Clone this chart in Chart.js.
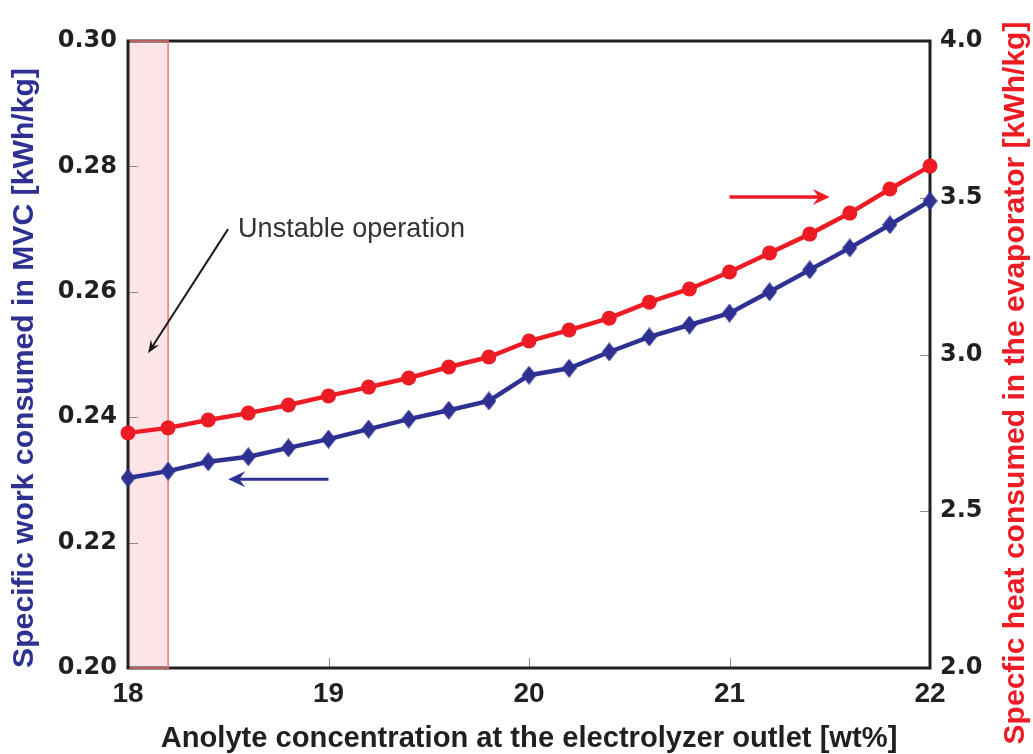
<!DOCTYPE html>
<html><head><meta charset="utf-8">
<script src="https://cdn.jsdelivr.net/npm/chart.js@4.4.1/dist/chart.umd.min.js"></script>
<style>html,body{margin:0;padding:0;background:#fff;}#wrap{width:1033px;height:754px;}</style>
</head><body><div id="wrap"><canvas id="c" width="1033" height="754" style="width:1033px;height:754px"></canvas></div>
<script>
// ---- data ----
const concentration = [18.0, 18.2, 18.4, 18.6, 18.8, 19.0, 19.2, 19.4, 19.6, 19.8, 20.0, 20.2, 20.4, 20.6, 20.8, 21.0, 21.2, 21.4, 21.6, 21.8, 22.0];
const mvcWork = [0.2303, 0.2314, 0.2329, 0.2337, 0.2351, 0.2365, 0.2381, 0.2397, 0.2411, 0.2426, 0.2467, 0.2478, 0.2504, 0.2528, 0.2547, 0.2566, 0.2600, 0.2635, 0.2670, 0.2707, 0.2745];
const evapHeat = [2.750, 2.766, 2.791, 2.813, 2.839, 2.868, 2.896, 2.925, 2.960, 2.992, 3.043, 3.078, 3.116, 3.167, 3.209, 3.263, 3.324, 3.384, 3.451, 3.528, 3.601];
const xTicks = [18, 19, 20, 21, 22];
const leftTicks = [0.20, 0.22, 0.24, 0.26, 0.28, 0.30];
const rightTicks = [2.0, 2.5, 3.0, 3.5, 4.0];
const unstableRange = [18.0, 18.2];
const xTitle = 'Anolyte concentration at the electrolyzer outlet [wt%]';
const leftTitle = 'Specific work consumed in MVC [kWh/kg]';
const rightTitle = 'Specfic heat consumed in the evaporator [kWh/kg]';
const noteText = 'Unstable operation';

// annotation anchors in data units (x, left-axis y)
const notes = {
  text: {x: 18.549, y: 0.26874},
  blackArrow: {from: [18.499, 0.2700], to: [18.10, 0.2502]},
  blueArrow: {from: [19.0, 0.2301], to: [18.5, 0.2301]},
  redArrow: {from: [21.0, 0.2751], to: [21.5, 0.2751]}
};

const BLUE = '#2e3192', RED = '#ed1c24';
const SANS = '"Liberation Sans", Arial, sans-serif';

function diamond(w, h, color) {
  const c = document.createElement('canvas'); c.width = w; c.height = h;
  const g = c.getContext('2d'); g.fillStyle = color;
  g.beginPath(); g.moveTo(w/2, 0); g.lineTo(w, h/2); g.lineTo(w/2, h); g.lineTo(0, h/2); g.closePath(); g.fill();
  return c;
}
function fitSize(ctx, text, weight, family, width) {
  ctx.font = weight + ' 100px ' + family;
  return 100 * width / ctx.measureText(text).width;
}
function arrow(ctx, x0, y0, x1, y1, color, lw, L, W) {
  const a = Math.atan2(y1 - y0, x1 - x0);
  ctx.save();
  ctx.strokeStyle = color; ctx.fillStyle = color; ctx.lineWidth = lw; ctx.lineCap = 'butt';
  ctx.beginPath(); ctx.moveTo(x0, y0);
  ctx.lineTo(x1 - Math.cos(a) * L * 0.6, y1 - Math.sin(a) * L * 0.6); ctx.stroke();
  ctx.translate(x1, y1); ctx.rotate(a);
  ctx.beginPath(); ctx.moveTo(0, 0); ctx.lineTo(-L, -W); ctx.lineTo(-L * 0.65, 0); ctx.lineTo(-L, W); ctx.closePath(); ctx.fill();
  ctx.restore();
}

const annot = {
  id: 'annot',
  beforeDatasetsDraw(chart) {
    const {ctx, chartArea: a, scales: {x, y, y1}} = chart;
    const x0 = x.getPixelForValue(unstableRange[0]), x1 = x.getPixelForValue(unstableRange[1]);
    ctx.save();
    ctx.fillStyle = '#fde5e7';
    ctx.fillRect(x0, a.top, x1 - x0, a.bottom - a.top);
    // inner ticks
    ctx.strokeStyle = '#8c8c8c'; ctx.lineWidth = 1;
    ctx.beginPath();
    leftTicks.forEach(v => { const p = Math.round(y.getPixelForValue(v)) + 0.5; ctx.moveTo(a.left, p); ctx.lineTo(a.left + 10, p); });
    rightTicks.forEach(v => { const p = Math.round(y1.getPixelForValue(v)) + 0.5; ctx.moveTo(a.right, p); ctx.lineTo(a.right - 10, p); });
    xTicks.forEach(v => { const p = Math.round(x.getPixelForValue(v)) + 0.5; ctx.moveTo(p, a.bottom); ctx.lineTo(p, a.bottom - 10); });
    ctx.stroke();
    // frame
    ctx.strokeStyle = '#231f20'; ctx.lineWidth = 3;
    ctx.strokeRect(a.left, a.top, a.right - a.left, a.bottom - a.top);
    // region border (top, right, bottom)
    ctx.strokeStyle = '#f0777b'; ctx.lineWidth = 1.5;
    ctx.beginPath();
    ctx.moveTo(x0 + 1.5, a.top); ctx.lineTo(x1, a.top); ctx.lineTo(x1, a.bottom); ctx.lineTo(x0 + 1.5, a.bottom);
    ctx.stroke();
    ctx.restore();
  },
  afterDatasetsDraw(chart) {
    const {ctx, scales: {x, y}} = chart;
    const P = (p) => [x.getPixelForValue(p[0]), y.getPixelForValue(p[1])];
    let f, t;
    f = P(notes.blackArrow.from); t = P(notes.blackArrow.to);
    arrow(ctx, f[0], f[1], t[0], t[1], '#1a1a1a', 2, 13, 5);
    f = P(notes.blueArrow.from); t = P(notes.blueArrow.to);
    arrow(ctx, f[0], f[1], t[0], t[1], BLUE, 3, 17, 8);
    f = P(notes.redArrow.from); t = P(notes.redArrow.to);
    arrow(ctx, f[0], f[1], t[0], t[1], RED, 3.5, 17, 8);
    ctx.save();
    const s = fitSize(ctx, noteText, 'normal', SANS, 227);
    ctx.font = 'normal ' + s.toFixed(2) + 'px ' + SANS;
    ctx.fillStyle = '#333333'; ctx.textAlign = 'left'; ctx.textBaseline = 'alphabetic';
    ctx.fillText(noteText, x.getPixelForValue(notes.text.x), y.getPixelForValue(notes.text.y));
    ctx.restore();
  },
  afterDraw(chart) {
    const {ctx, chartArea: a} = chart;
    ctx.save();
    ctx.textAlign = 'center'; ctx.textBaseline = 'alphabetic';
    // x title
    let s = fitSize(ctx, xTitle, 'bold', SANS, 737);
    ctx.font = 'bold ' + s.toFixed(2) + 'px ' + SANS; ctx.fillStyle = '#231f20';
    ctx.fillText(xTitle, (a.left + a.right) / 2, 747);
    // left title
    s = fitSize(ctx, leftTitle, 'bold', SANS, 600);
    ctx.save(); ctx.translate(33, 368); ctx.rotate(-Math.PI / 2);
    ctx.font = 'bold ' + s.toFixed(2) + 'px ' + SANS; ctx.fillStyle = BLUE;
    ctx.fillText(leftTitle, 0, 0); ctx.restore();
    // right title
    s = fitSize(ctx, rightTitle, 'bold', SANS, 723);
    ctx.save(); ctx.translate(1024, 383); ctx.rotate(-Math.PI / 2);
    ctx.font = 'bold ' + s.toFixed(2) + 'px ' + SANS; ctx.fillStyle = RED;
    ctx.fillText(rightTitle, 0, 0); ctx.restore();
    ctx.restore();
  }
};

new Chart(document.getElementById('c'), {
  type: 'line',
  data: {
    datasets: [
      {
        label: 'MVC work', yAxisID: 'y',
        data: concentration.map((c, i) => ({x: c, y: mvcWork[i]})),
        borderColor: BLUE, backgroundColor: BLUE, borderWidth: 4.5,
        pointStyle: diamond(15, 19, BLUE), pointRadius: 8, pointBorderWidth: 0,
        clip: false, tension: 0, order: 2
      },
      {
        label: 'Evaporator heat', yAxisID: 'y1',
        data: concentration.map((c, i) => ({x: c, y: evapHeat[i]})),
        borderColor: RED, backgroundColor: RED, borderWidth: 4.5,
        pointStyle: 'circle', pointRadius: 7.5, pointBorderWidth: 0,
        clip: false, tension: 0, order: 1
      }
    ]
  },
  options: {
    responsive: false, animation: false, events: [],
    layout: {padding: {top: 41, left: 0, right: 0, bottom: 0}},
    plugins: {legend: {display: false}, tooltip: {enabled: false}},
    scales: {
      x: {
        type: 'linear', min: 18, max: 22,
        afterBuildTicks: s => { s.ticks = xTicks.map(v => ({value: v})); },
        afterFit: s => { s.height = 86; },
        grid: {display: false, drawTicks: false}, border: {display: false},
        ticks: {padding: 9, color: '#231f20', maxRotation: 0, autoSkip: false,
          font: {family: '"Liberation Sans Narrow", "Liberation Sans", sans-serif', size: 28, weight: 'bold'},
          callback: v => String(v)}
      },
      y: {
        type: 'linear', position: 'left', min: 0.2, max: 0.3,
        afterBuildTicks: s => { s.ticks = leftTicks.map(v => ({value: v})); },
        afterFit: s => { s.width = 128; },
        grid: {display: false, drawTicks: false}, border: {display: false},
        ticks: {padding: 11, color: '#231f20',
          font: {family: '"DejaVu Sans", sans-serif', size: 24, weight: 'bold'},
          callback: v => v.toFixed(2)}
      },
      y1: {
        type: 'linear', position: 'right', min: 2, max: 4,
        afterBuildTicks: s => { s.ticks = rightTicks.map(v => ({value: v})); },
        afterFit: s => { s.width = 103; },
        grid: {display: false, drawTicks: false}, border: {display: false},
        ticks: {padding: 10, color: '#231f20',
          font: {family: '"DejaVu Sans", sans-serif', size: 24, weight: 'bold'},
          callback: v => v.toFixed(1)}
      }
    }
  },
  plugins: [annot]
});
</script>
</body></html>
